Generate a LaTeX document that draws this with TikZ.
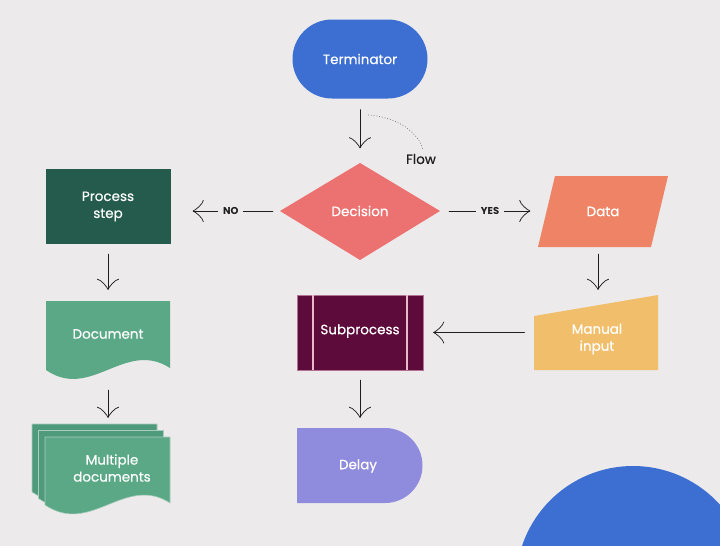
\documentclass[tikz,border=0pt]{standalone}
\usepackage{fontspec}
\setmainfont{Poppins}
\newfontfamily\medfont{Poppins}[FakeBold=0.45]
\usetikzlibrary{arrows.meta,shapes.misc}
\definecolor{bg}{HTML}{ECEAEB}
\definecolor{termblue}{HTML}{3D6FD2}
\definecolor{decred}{HTML}{EC7171}
\definecolor{procgreen}{HTML}{245B4C}
\definecolor{docgreen}{HTML}{5AA886}
\definecolor{docdark}{HTML}{4F9A7A}
\definecolor{datacoral}{HTML}{EE8465}
\definecolor{manyellow}{HTML}{F1BF6C}
\definecolor{submaroon}{HTML}{5D0B3B}
\definecolor{sublines}{HTML}{E9B8CB}
\definecolor{delaypurple}{HTML}{8F8BDD}
\definecolor{ink}{HTML}{1E1E1E}
\begin{document}
\begin{tikzpicture}[x=1pt,y=-1pt,
  lbl/.style={text=white, font=\medfont\fontsize{13.5}{17}\selectfont, align=center, inner sep=0pt},
  box/.style={lbl, minimum width=125pt, minimum height=75pt},
  flowarrow/.style={draw=ink, line width=0.9pt, line cap=round, -{Classical TikZ Rightarrow[length=11pt,width=22pt]}},
  yesno/.style={fill=bg, text=ink, font=\fontsize{10}{12}\selectfont\bfseries, inner sep=5pt}
]
\fill[bg] (0,0) rectangle (720,546);
\useasboundingbox (0,0) rectangle (720,546);
% blue circle bottom right
\begin{scope}
  \clip (0,0) rectangle (720,546);
  \fill[termblue] (633,583) circle (117);
\end{scope}

% Terminator
\node[lbl, rounded rectangle, fill=termblue, minimum width=135pt, minimum height=79pt] (term) at (360,59) {Terminator};

% Decision
\fill[decred] (280,211) -- (360,163) -- (440,211) -- (360,260) -- cycle;
\node[lbl, minimum width=160pt, minimum height=97pt] (dec) at (360,211) {Decision};

% Flow annotation
\draw[gray, dotted, line width=0.8pt] (368,115) .. controls (398,117) and (419,133) .. (423,150);
\node[text=ink, font=\medfont\fontsize{13.5}{16}\selectfont, inner sep=0pt] (flow) at (421,159) {Flow};

% Process step
\node[box, fill=procgreen] (proc) at (108,206.5) {Process\\step};

% Document
\fill[docgreen] (46,301) -- (170,301) -- (170,368) .. controls (125,339) and (91,401) .. (46,370) -- cycle;
\node[box, minimum height=69pt] (doc) at (108,335.5) {};
\node[lbl] (doctext) at (108,334) {Document};

% Multiple documents
\foreach \dx/\dy/\c in {-13/-13/docdark, -6.5/-6.5/docdark, 0/0/docgreen}{
  \begin{scope}[shift={(\dx,\dy)}]
    \filldraw[fill=\c, draw=bg!55!docgreen, line width=0.6pt] (45,437) -- (170,437) -- (170,503) .. controls (125,474) and (91,536) .. (45,505) -- cycle;
  \end{scope}
}
\node[box, minimum height=68pt] (multi) at (108,471) {};
\node[lbl] (multitext) at (112,468) {Multiple\\documents};

% Data
\fill[datacoral] (555,176) -- (668,176) -- (651,247) -- (538,247) -- cycle;
\node[lbl, minimum width=113pt, minimum height=71pt] (data) at (603,211.5) {Data};

% Manual input
\fill[manyellow] (534,316) -- (658,295) -- (658,370) -- (534,370) -- cycle;
\node[box] (man) at (596,332.5) {};
\node[lbl] (mantext) at (597,339) {Manual\\input};

% Subprocess
\filldraw[fill=submaroon, draw=sublines!60!submaroon, line width=0.6pt] (297,295) rectangle (423,370);
\draw[sublines, line width=1.1pt] (313,295) -- (313,370) (407,295) -- (407,370);
\node[lbl, minimum width=126pt, minimum height=75pt] (sub) at (360,332.5) {};
\node[lbl] (subtext) at (360,331) {Subprocess};

% Delay
\fill[delaypurple] (297,428) -- (385,428) arc[start angle=-90, end angle=90, radius=37.5] -- (297,503) -- cycle;
\node[lbl, minimum width=126pt, minimum height=75pt] (delay) at (360,465.5) {};
\node[lbl] (delaytext) at (358,466) {Delay};

% Connectors
\draw[flowarrow, shorten <=11pt, shorten >=14pt] (term.south) -- (dec.north);
\draw[flowarrow, shorten <=7pt, shorten >=22pt] (dec.west) -- node[yesno, pos=0.45] {NO} (dec.west -| proc.east);
\draw[flowarrow, shorten <=9pt, shorten >=16pt] (dec.east) -- node[yesno, pos=0.47] {YES} (dec.east -| data.west);
\draw[flowarrow, shorten <=10pt, shorten >=11pt] (proc.south) -- (doc.north);
\draw[flowarrow, shorten <=20pt, shorten >=19pt] (doc.south) -- (multi.north);
\draw[flowarrow, shorten <=7pt, shorten >=5pt] ([xshift=-5pt]data.south) -- ([xshift=-5pt]data.south |- man.north);
\draw[flowarrow, shorten <=9pt, shorten >=10pt] (man.west) -- (man.west -| sub.east);
\draw[flowarrow, shorten <=10pt, shorten >=10pt] (sub.south) -- (delay.north);
\end{tikzpicture}
\end{document}
